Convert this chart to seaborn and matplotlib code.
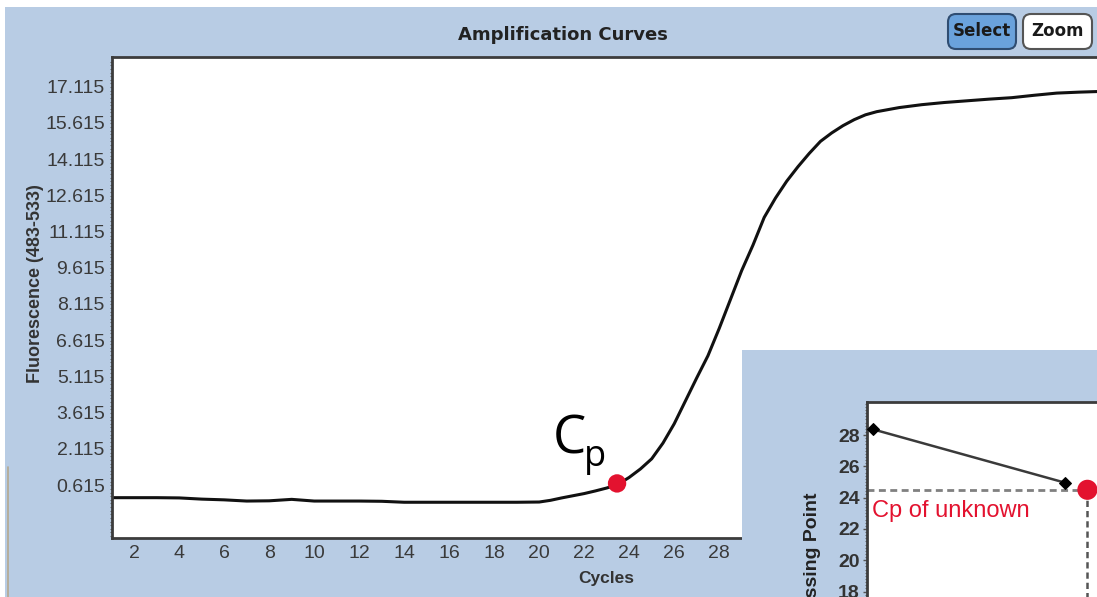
import numpy as np
import pandas as pd
import seaborn as sns
import matplotlib.pyplot as plt
from matplotlib.patches import Rectangle, FancyBboxPatch
from matplotlib.lines import Line2D
from matplotlib.ticker import FixedLocator

# ── data ───────────────────────────────────────────────────────────────────
# whole cycles on the flat parts, half cycles through the rise
cycles = [
    1, 2, 3, 4, 5, 6, 7, 8, 9, 10, 11, 12, 13, 14, 15, 16, 17, 18, 19, 20,
    20.5, 21, 21.5, 22, 22.5, 23, 23.5, 24, 24.5, 25, 25.5, 26, 26.5, 27,
    27.5, 28, 28.5, 29, 29.5, 30, 30.5, 31, 31.5, 32, 32.5, 33, 33.5, 34,
    34.5, 35, 36, 37, 38, 39, 40, 41, 42, 43, 44, 45,
]
fluorescence = [
    0.09, 0.09, 0.09, 0.08, 0.03, 0.00, -0.05, -0.04, 0.02, -0.05,
    -0.05, -0.05, -0.06, -0.10, -0.10, -0.10, -0.10, -0.10, -0.10, -0.09,
    -0.02, 0.08, 0.17, 0.26, 0.37, 0.49, 0.64, 0.93, 1.28, 1.70,
    2.35, 3.15, 4.10, 5.05, 5.97, 7.10, 8.30, 9.50, 10.55, 11.70,
    12.50, 13.20, 13.80, 14.35, 14.85, 15.20, 15.50, 15.75, 15.95, 16.08,
    16.25, 16.37, 16.46, 16.53, 16.60, 16.66, 16.76, 16.85, 16.89, 16.92,
]
cp_cycle = 23.46
cp_fluor = 0.68

y_ticks = [0.615, 2.115, 3.615, 5.115, 6.615, 8.115, 9.615,
           11.115, 12.615, 14.115, 15.615, 17.115]
x_ticks = list(range(2, 46, 2))

# standard curve inset
std_log_conc = [1.0, 2.0]
std_cp = [28.36, 24.95]
unknown_log_conc = 2.115
unknown_cp = 24.5
inset_y_ticks = [18, 20, 22, 24, 26, 28]

# ── styling ────────────────────────────────────────────────────────────────
sns.set_style("white")
plt.rcParams["font.family"] = ["Liberation Sans", "DejaVu Sans"]

BLUE = "#b8cce4"
RED = "#e3122f"
SPINE = "#3c3c3c"
TXT = "#3a3a3a"

W, H = 1097, 597

def fx(px):
    return px / W

def fy(py):
    return 1 - py / H

fig = plt.figure(figsize=(W / 100, H / 100), dpi=100, facecolor="white")

# window background
fig.add_artist(Rectangle((fx(5), 0), 1 - fx(5), fy(7), transform=fig.transFigure,
                         facecolor=BLUE, edgecolor="none", zorder=-5))
fig.add_artist(Line2D([fx(7.5), fx(7.5)], [0, fy(467)], transform=fig.transFigure,
                      color="#b5a88f", lw=1.2, zorder=-4))

# ── main amplification plot ────────────────────────────────────────────────
ax = fig.add_axes([fx(111.7), fy(538.3), (1101.7 - 111.7) / W, (538.3 - 57.3) / H])
ax.set_facecolor("white")

df = pd.DataFrame({"cycle": cycles, "fluor": fluorescence})
sns.lineplot(data=df, x="cycle", y="fluor", ax=ax, color="#111111", lw=2.2)
sns.scatterplot(x=[cp_cycle], y=[cp_fluor], ax=ax, s=175, color=RED,
                edgecolor="none", zorder=5)

ax.set_xlim(1, 45)
ax.set_ylim(-1.593, 18.333)
ax.set_xticks(x_ticks)
ax.set_yticks(y_ticks)
ax.set_yticklabels([f"{v:.3f}" for v in y_ticks])
ax.yaxis.set_minor_locator(FixedLocator(np.arange(-1.5, 18.3, 0.15)))
ax.tick_params(axis="both", which="major", direction="out", length=3, width=1,
               color="#555555", labelsize=14, labelcolor=TXT, pad=2)
ax.tick_params(axis="y", which="minor", direction="out", length=1.5, width=0.8,
               color="#666666", left=True)
for s in ["top", "left", "bottom"]:
    ax.spines[s].set_color(SPINE)
    ax.spines[s].set_linewidth(2)
ax.spines["right"].set_visible(False)

ax.set_xlabel("Cycles", fontweight="bold", fontsize=12.5, color="#333333")
ax.xaxis.label.set_va("center")
ax.xaxis.set_label_coords(0.5, (538.3 - 578) / (538.3 - 57.3))
ax.set_ylabel("")

fig.text(fx(36), fy(284), "Fluorescence (483-533)", rotation=90, ha="center",
         va="center", fontweight="bold", fontsize=13, color="#333333")
fig.text(fx(563), fy(35), "Amplification Curves", ha="center", va="center",
         fontweight="bold", fontsize=13, family="DejaVu Sans", color="#222222")

# Cp annotation
ax.text(20.6, 1.93, "C", fontsize=38, family="Open Sans", va="baseline", color="black")
ax.text(21.99, 1.39, "p", fontsize=26, family="Open Sans", va="baseline", color="black")

# buttons
def button(px0, py0, px1, py1, label, fc, ec):
    patch = FancyBboxPatch((px0 / 100, (H - py1) / 100), (px1 - px0) / 100,
                           (py1 - py0) / 100, boxstyle="round,pad=0,rounding_size=0.08",
                           transform=fig.dpi_scale_trans, facecolor=fc, edgecolor=ec,
                           lw=1.5, zorder=6)
    fig.add_artist(patch)
    fig.text((px0 + px1) / 2 / 100, (H - (py0 + py1) / 2) / 100, label,
             transform=fig.dpi_scale_trans, ha="center", va="center",
             fontweight="bold", fontsize=12, family="DejaVu Sans",
             color="#1a1a1a", zorder=7)

button(948, 14, 1016, 49, "Select", "#6aa2dc", "#2f4d72")
button(1023, 14, 1092, 49, "Zoom", "white", "#555555")

# ── standard curve inset ───────────────────────────────────────────────────
fig.add_artist(Rectangle((fx(742), 0), 1 - fx(742), fy(350), transform=fig.transFigure,
                         facecolor=BLUE, edgecolor="none", zorder=2))

ins = fig.add_axes([fx(866.7), 0, (W - 866.7) / W, (H - 401.7) / H], zorder=3)
ins.set_facecolor("white")
xlo, xhi = 0.966, 2.165
ylo, yhi = 17.65, 30.13

ins.plot([xlo, unknown_log_conc], [unknown_cp, unknown_cp], color="#808080",
         lw=2, dashes=(2.5, 1.6), zorder=2)
ins.plot([unknown_log_conc, unknown_log_conc], [unknown_cp, ylo], color="#555555",
         lw=1.8, dashes=(2.5, 1.6), zorder=2)
sns.lineplot(x=std_log_conc, y=std_cp, ax=ins, color="#3a3a3a", lw=1.8,
             marker="D", markersize=6, markerfacecolor="black",
             markeredgecolor="black", zorder=3)
sns.scatterplot(x=[unknown_log_conc], y=[unknown_cp], ax=ins, s=210, color=RED,
                edgecolor="none", zorder=4, clip_on=False)

ins.set_xlim(xlo, xhi)
ins.set_ylim(ylo, yhi)
ins.set_xticks([])
ins.set_yticks(inset_y_ticks)
ins.yaxis.set_minor_locator(FixedLocator(np.arange(17.8, 30.1, 0.2)))
ins.tick_params(axis="y", which="major", direction="out", length=3, width=1,
                color="#555555", labelsize=14, labelcolor="#333333", pad=2, left=True)
ins.tick_params(axis="y", which="minor", direction="out", length=1.5, width=0.8,
                color="#666666", left=True)
for lab in ins.get_yticklabels():
    lab.set_fontweight("bold")
for s in ["top", "left"]:
    ins.spines[s].set_color(SPINE)
    ins.spines[s].set_linewidth(2)
ins.spines["right"].set_visible(False)
ins.spines["bottom"].set_visible(False)
ins.set_xlabel("")
ins.set_ylabel("")

ins.text(0.992, 22.78, "Cp of unknown", color=RED, fontsize=17, va="baseline")
fig.text(fx(813), fy(562), "Crossing Point", rotation=90, ha="center", va="center",
         fontweight="bold", fontsize=14, color="#222222", zorder=4)

fig.savefig("out.png", dpi=100, facecolor="white")
